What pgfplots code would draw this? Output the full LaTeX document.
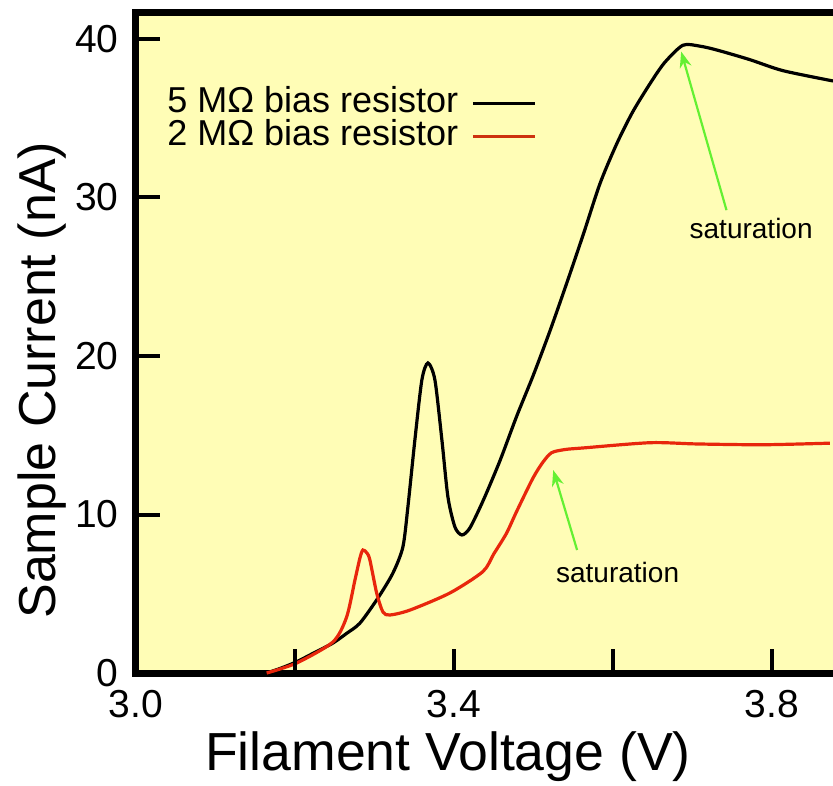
\documentclass[border=0pt]{standalone}
\usepackage{fontspec}
\setmainfont{Liberation Sans}
\usepackage{pgfplots}
\pgfplotsset{compat=1.18}
\usetikzlibrary{arrows.meta,calc}
\definecolor{bgyellow}{RGB}{255,253,182}
\definecolor{curvered}{RGB}{232,38,12}
\definecolor{legred}{RGB}{205,50,15}
\definecolor{arrowgreen}{RGB}{100,240,50}

\begin{document}
\begin{tikzpicture}
\begin{axis}[
  scale only axis,
  width=348.5pt, height=330.5pt,
  xmin=3.0, xmax=3.877, ymin=0, ymax=41.7,
  separate axis lines,
  axis x line*=box, axis y line*=left,
  axis line style={black, line width=3.5pt, line cap=rect},
  xtick={3.0,3.2,3.4,3.6,3.8},
  xticklabels={3.0,,3.4,,3.8},
  ytick={0,10,20,30,40},
  yticklabels={0,10,20,30,40},
  xtick pos=bottom, ytick pos=left,
  tick align=inside,
  major tick length=11pt,
  every major tick/.append style={black, line width=1.5pt},
  axis background/.style={fill=bgyellow},
  ticklabel style={font=\fontsize{19.5}{22}\selectfont, inner sep=0pt},
  xticklabel style={yshift=-8.5pt},
  yticklabel style={xshift=-8.5pt},
  xlabel={Filament Voltage (V)},
  ylabel={Sample Current (nA)},
  xlabel style={font=\fontsize{26.8}{30}\selectfont,
    at={(axis description cs:0.4476,-0.127)}, anchor=center},
  ylabel style={font=\fontsize{26}{30}\selectfont,
    at={(axis description cs:-0.135,0.443)}, anchor=center},
  clip=false,
  legend style={draw=none, fill=none, at={(axis cs:3.5044,37.0)}, anchor=north east,
    font=\fontsize{18}{21}\selectfont, inner sep=0pt, row sep=0pt, column sep=6.5pt,
    nodes={inner sep=0pt, text height=12.8pt, text depth=3.7pt}},
  legend plot pos=right,
  legend cell align=right,
  legend image code/.code={\draw[#1] (0pt,0pt) -- (31pt,0pt);},
]
% 5 MOhm bias resistor
\addplot[black, line width=1.6pt, smooth, tension=0.45] coordinates {
(3.1644,0) (3.182,0.3) (3.2021,0.71) (3.225,1.3) (3.2478,1.89) (3.265,2.5)
(3.2818,3.15) (3.3044,4.73) (3.3233,6.31) (3.3358,7.95) (3.3421,10.47)
(3.3509,14.70) (3.3597,18.49) (3.3673,19.56) (3.3761,18.49) (3.3849,14.70)
(3.3925,11.10) (3.4013,9.21) (3.4101,8.71) (3.4201,9.15) (3.437,10.9)
(3.458,13.4) (3.479,16.2) (3.500,18.8) (3.521,21.6) (3.542,24.6)
(3.563,27.7) (3.584,30.9) (3.605,33.4) (3.625,35.4) (3.647,37.2)
(3.665,38.5) (3.688,39.6) (3.709,39.55) (3.731,39.3) (3.772,38.7)
(3.814,38.0) (3.877,37.35)
};
\addlegendentry{5 MΩ bias resistor}
% 2 MOhm bias resistor
\addplot[curvered, line width=1.6pt, smooth, tension=0.45, legend image post style={legred}] coordinates {
(3.1644,0) (3.2021,0.63) (3.2478,1.96) (3.265,3.53) (3.2755,5.87)
(3.2818,7.26) (3.2855,7.76) (3.2906,7.57) (3.2943,7.13) (3.3028,5.05)
(3.3107,3.85) (3.3195,3.66) (3.3447,3.97) (3.395,5.05) (3.4365,6.4)
(3.450,7.5) (3.466,8.8) (3.479,10.2) (3.4995,12.3) (3.512,13.3)
(3.523,13.9) (3.54,14.1) (3.563,14.2) (3.647,14.53) (3.706,14.45)
(3.789,14.4) (3.873,14.5)
};
\addlegendentry{2 MΩ bias resistor}
% inward tick marks (about 11pt long)
\draw[black, line width=2pt] (axis cs:3.2,0) -- (axis cs:3.2,1.5);
\draw[black, line width=2pt] (axis cs:3.4,0) -- (axis cs:3.4,1.5);
\draw[black, line width=2pt] (axis cs:3.6,0) -- (axis cs:3.6,1.5);
\draw[black, line width=2pt] (axis cs:3.8,0) -- (axis cs:3.8,1.5);
\draw[black, line width=2pt] (axis cs:3.0,10) -- (axis cs:3.03,10);
\draw[black, line width=2pt] (axis cs:3.0,20) -- (axis cs:3.03,20);
\draw[black, line width=2pt] (axis cs:3.0,30) -- (axis cs:3.03,30);
\draw[black, line width=2pt] (axis cs:3.0,40) -- (axis cs:3.03,40);
% annotations
\draw[arrowgreen, line width=1.1pt, -{Stealth[length=8pt,width=6pt]}]
  (axis cs:3.743,29.2) -- (axis cs:3.686,39.2);
\node[font=\fontsize{14}{16}\selectfont] at (axis cs:3.774,28.05) {saturation};
\draw[arrowgreen, line width=1.1pt, -{Stealth[length=8pt,width=6pt]}]
  (axis cs:3.555,7.76) -- (axis cs:3.525,12.8);
\node[font=\fontsize{14}{16}\selectfont] at (axis cs:3.606,6.37) {saturation};
\coordinate (ll) at (rel axis cs:0,0);
\coordinate (ur) at (rel axis cs:1,1);
\end{axis}
\pgfresetboundingbox
\path ($(ll)+(-68pt,-56pt)$) rectangle ($(ur)+(0pt,6pt)$);
\end{tikzpicture}
\end{document}
